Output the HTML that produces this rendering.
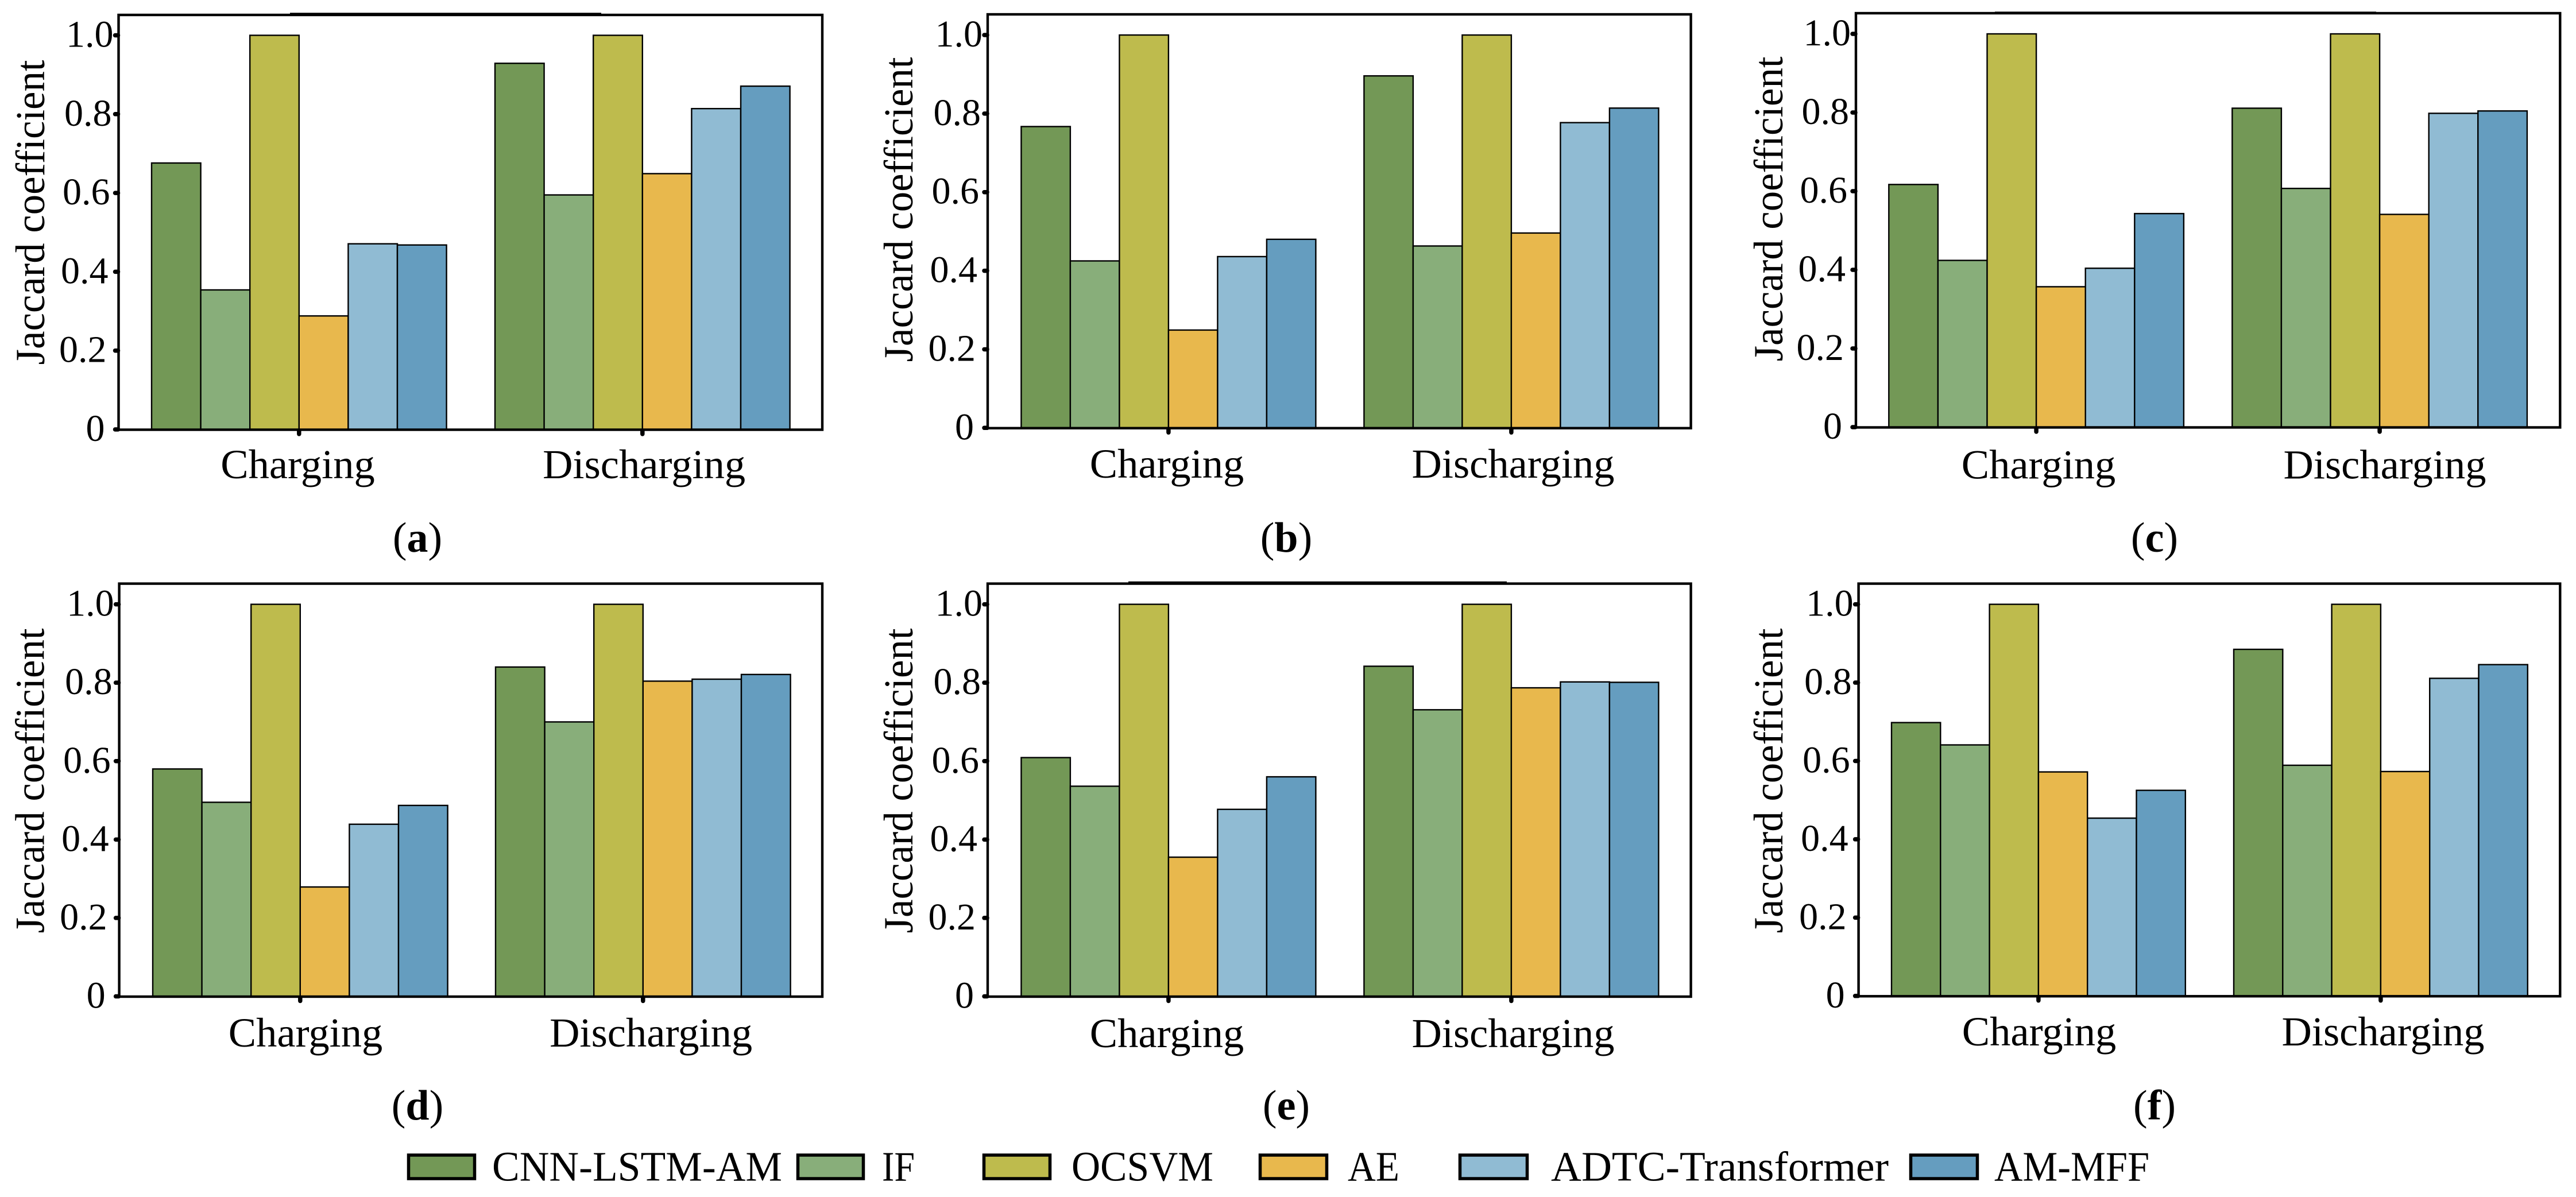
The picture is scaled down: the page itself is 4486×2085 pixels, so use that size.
<!DOCTYPE html>
<html lang="en">
<head>
<meta charset="utf-8">
<title>Jaccard coefficient comparison</title>
<style>
html,body{margin:0;padding:0;background:#fff;}
svg{display:block;}
text{font-family:"Liberation Serif","DejaVu Serif",serif;fill:#000;}
</style>
</head>
<body>
<svg id="figure" xmlns="http://www.w3.org/2000/svg" width="4486" height="2085" viewBox="0 0 4486 2085">
<rect x="0" y="0" width="4486" height="2085" fill="#fff"/>
</svg>
<script>
const categories = ['Charging', 'Discharging'];
const seriesNames = ['CNN-LSTM-AM', 'IF', 'OCSVM', 'AE', 'ADTC-Transformer', 'AM-MFF'];
const seriesColors = ['#739856', '#88AE7A', '#BEBB4D', '#E8B84D', '#90BBD3', '#659DBF'];
const tickValues = [0, 0.2, 0.4, 0.6, 0.8, 1.0];
const tickLabels = ['0', '0.2', '0.4', '0.6', '0.8', '1.0'];
const yAxisTitle = 'Jaccard coefficient';

const panelACharging = [0.676, 0.354, 1.0, 0.288, 0.471, 0.468];
const panelADischarging = [0.929, 0.595, 1.0, 0.649, 0.814, 0.871];
const panelBCharging = [0.767, 0.425, 1.0, 0.249, 0.436, 0.480];
const panelBDischarging = [0.896, 0.463, 1.0, 0.496, 0.777, 0.814];
const panelCCharging = [0.617, 0.424, 1.0, 0.357, 0.404, 0.543];
const panelCDischarging = [0.811, 0.607, 1.0, 0.541, 0.798, 0.804];
const panelDCharging = [0.580, 0.495, 1.0, 0.279, 0.439, 0.487];
const panelDDischarging = [0.840, 0.700, 1.0, 0.804, 0.809, 0.821];
const panelECharging = [0.609, 0.536, 1.0, 0.355, 0.477, 0.560];
const panelEDischarging = [0.842, 0.731, 1.0, 0.787, 0.802, 0.801];
const panelFCharging = [0.698, 0.641, 1.0, 0.572, 0.454, 0.525];
const panelFDischarging = [0.885, 0.589, 1.0, 0.573, 0.811, 0.846];

const layouts = [
  {id:'a', values:[panelACharging, panelADischarging], left:206.5, right:1432, top:26, y0:748, y1:61.5, barStart:264, groupStep:598, barW:85.6, titleX:77, titleY:370, catX:[518.5,1121.6], catY:833, capX:727, capY:961, extra:[505,1047,23.5]},
  {id:'b', values:[panelBCharging, panelBDischarging], left:1720, right:2944.6, top:25, y0:745.3, y1:61, barStart:1778.4, groupStep:597, barW:85.5, titleX:1589, titleY:365, catX:[2032,2635], catY:832, capX:2240, capY:961, extra:null},
  {id:'c', values:[panelCCharging, panelCDischarging], left:3232, right:4458.3, top:23, y0:744, y1:59, barStart:3289.3, groupStep:598, barW:85.6, titleX:3104, titleY:364, catX:[3550,4153], catY:833.5, capX:3752, capY:961, extra:[3474,4138,21.5]},
  {id:'d', values:[panelDCharging, panelDDischarging], left:207.6, right:1432, top:1016.6, y0:1735.5, y1:1052.6, barStart:266, groupStep:597, barW:85.6, titleX:76.5, titleY:1360, catX:[532,1133.6], catY:1823, capX:727, capY:1950, extra:null},
  {id:'e', values:[panelECharging, panelEDischarging], left:1720, right:2944.6, top:1016.6, y0:1735.5, y1:1052.6, barStart:1778.4, groupStep:597, barW:85.5, titleX:1589, titleY:1360, catX:[2032,2635], catY:1824, capX:2240, capY:1950, extra:[1965,2624,1014]},
  {id:'f', values:[panelFCharging, panelFDischarging], left:3236.6, right:4458.3, top:1016.6, y0:1734.8, y1:1052.6, barStart:3294, groupStep:596, barW:85.3, titleX:3104, titleY:1360, catX:[3551,4150], catY:1821, capX:3752, capY:1950, extra:null}
];

const legendLayout = [
  {sx:709, sw:120, tx:857, tw:505},
  {sx:1387, sw:119, tx:1536, tw:57},
  {sx:1711, sw:120, tx:1866, tw:247},
  {sx:2192, sw:121, tx:2347, tw:90},
  {sx:2540, sw:122, tx:2701, tw:588},
  {sx:3325, sw:121, tx:3473, tw:270}
];

const NS = 'http://www.w3.org/2000/svg';
const svg = document.getElementById('figure');

function make(parent, tag, attrs) {
  const el = document.createElementNS(NS, tag);
  for (const k in attrs) el.setAttribute(k, attrs[k]);
  parent.appendChild(el);
  return el;
}

layouts.forEach(function (p) {
  const yScale = function (v) { return p.y0 - v * (p.y0 - p.y1); };
  const xBar = function (groupIndex, seriesIndex) { return p.barStart + groupIndex * p.groupStep + seriesIndex * p.barW; };
  const xTick = function (groupIndex) { return xBar(groupIndex, 3); };

  const g = make(svg, 'g', {});
  
  

  p.values.forEach(function (vals, gi) {
    vals.forEach(function (v, si) {
      const bar = make(g, 'rect', {x: xBar(gi, si), y: yScale(v), width: p.barW, height: p.y0 - yScale(v), fill: seriesColors[si], stroke: '#000', 'stroke-width': 2.4});
      
      
    });
  });

  const frame = make(g, 'rect', {x: p.left, y: p.top, width: p.right - p.left, height: p.y0 + 0.5 - p.top, fill: 'none', stroke: '#000', 'stroke-width': 4.4});
  
  

  if (p.extra) {
    const overline = make(g, 'line', {x1: p.extra[0], x2: p.extra[1], y1: p.extra[2], y2: p.extra[2], stroke: '#000', 'stroke-width': 2.5});
    
    
  }

  tickValues.forEach(function (v, i) {
    const tick = make(g, 'line', {x1: p.left - 1, x2: p.left - 6, y1: yScale(v), y2: yScale(v), stroke: '#000', 'stroke-width': 7.5, 'stroke-linecap': 'round'});
    
    
    const label = make(g, 'text', {x: p.left - 9 - (1 - v) * 15, y: yScale(v) + 20, 'text-anchor': 'end', 'font-size': 66});
    label.textContent = tickLabels[i];
    
    
  });

  categories.forEach(function (c, i) {
    const tick = make(g, 'line', {x1: xTick(i), x2: xTick(i), y1: p.y0 + 2, y2: p.y0 + 8, stroke: '#000', 'stroke-width': 7.5, 'stroke-linecap': 'round'});
    
    
    const label = make(g, 'text', {x: p.catX[i], y: p.catY, 'text-anchor': 'middle', 'font-size': 72.5});
    label.textContent = c;
    
    
  });

  const title = make(g, 'text', {x: p.titleX, y: p.titleY, 'text-anchor': 'middle', 'font-size': 72, textLength: 531, lengthAdjust: 'spacingAndGlyphs', transform: 'rotate(-90 ' + p.titleX + ' ' + p.titleY + ')'});
  title.textContent = yAxisTitle;
  
  

  const cap = make(g, 'text', {x: p.capX, y: p.capY, 'text-anchor': 'middle', 'font-size': 74});
  
  
  const open = make(cap, 'tspan', {});
  open.textContent = '(';
  const letter = make(cap, 'tspan', {'font-weight': 'bold'});
  letter.textContent = p.id;
  const close = make(cap, 'tspan', {});
  close.textContent = ')';
});

const legend = make(svg, 'g', {});


seriesNames.forEach(function (name, i) {
  const l = legendLayout[i];
  const entry = make(legend, 'g', {});
  
  
  const swatch = make(entry, 'rect', {x: l.sx + 2.5, y: 2012, width: l.sw - 5, height: 41, fill: seriesColors[i], stroke: '#000', 'stroke-width': 5.5});
  
  
  const label = make(entry, 'text', {x: l.tx, y: 2056.5, 'font-size': 73, textLength: l.tw, lengthAdjust: 'spacingAndGlyphs'});
  label.textContent = name;
  
  
});
</script>
</body>
</html>
